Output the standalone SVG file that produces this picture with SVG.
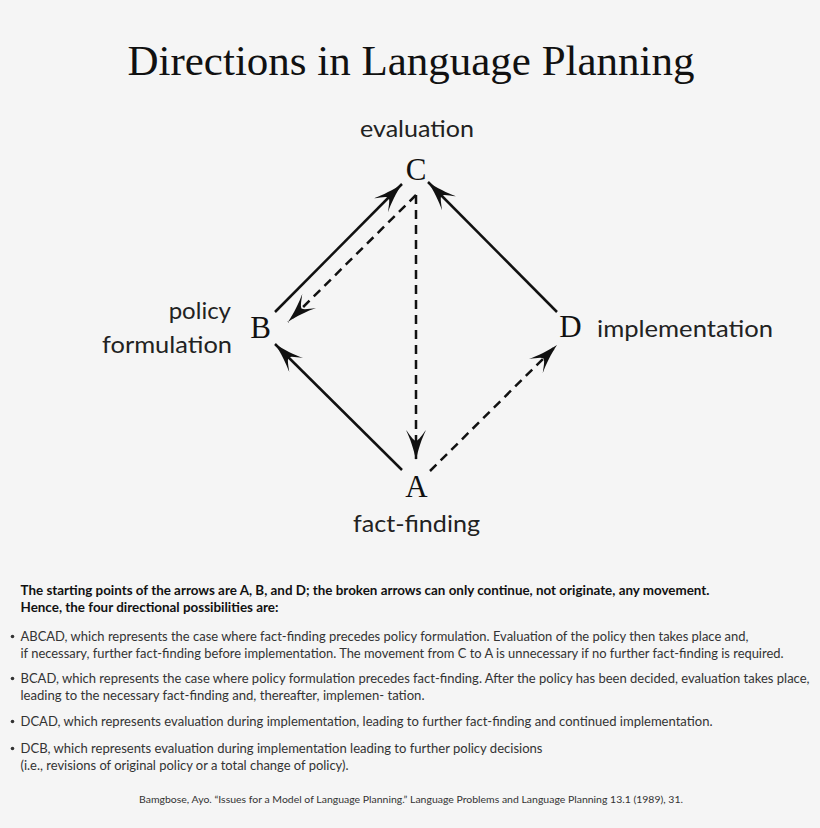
<svg xmlns="http://www.w3.org/2000/svg" width="820" height="828" viewBox="0 0 820 828">
<style>
.title{font-family:"Liberation Serif","DejaVu Serif",serif;font-size:42px;fill:#111}
.letter{font-family:"Liberation Serif","DejaVu Serif",serif;font-size:31px;fill:#111}
.lbl{font-family:Lato,"Liberation Sans",sans-serif;font-size:24px;fill:#222}
.bold{font-family:Lato,"Liberation Sans",sans-serif;font-size:13px;font-weight:bold;fill:#111}
.body{font-family:Lato,"Liberation Sans",sans-serif;font-size:12.6px;fill:#333}
.foot{font-family:Lato,"Liberation Sans",sans-serif;font-size:10px;fill:#333}
.solid{stroke:#111;stroke-width:2.5;fill:none}
.dash{stroke:#111;stroke-width:2.5;fill:none;stroke-dasharray:9,6}
</style>
<defs>
<marker id="ah" viewBox="0 0 30 20" refX="30" refY="10" markerWidth="30" markerHeight="20" markerUnits="userSpaceOnUse" orient="auto">
<path d="M30,10 C20,8 8,4 0,0 C5,4 10,7 11,10 C10,13 5,16 0,20 C8,16 20,12 30,10 Z" fill="#111"/>
</marker>
</defs>
<rect width="820" height="828" fill="#f5f5f5"/>
<text class="title" x="411" y="75" text-anchor="middle" textLength="567" lengthAdjust="spacingAndGlyphs">Directions in Language Planning</text>
<g id="connectors">
<line class="solid" x1="275" y1="312" x2="402" y2="184" marker-end="url(#ah)"/>
<line class="dash" x1="416" y1="195" x2="288" y2="322" marker-end="url(#ah)"/>
<line class="dash" x1="416" y1="195" x2="416" y2="460" marker-end="url(#ah)"/>
<line class="solid" x1="557" y1="312" x2="428" y2="182" marker-end="url(#ah)"/>
<line class="solid" x1="402" y1="470" x2="275" y2="344" marker-end="url(#ah)"/>
<line class="dash" x1="430" y1="471" x2="557" y2="345" marker-end="url(#ah)"/>
</g>
<g id="node-C">
<text class="lbl" x="417" y="137" text-anchor="middle" textLength="114" lengthAdjust="spacingAndGlyphs">evaluation</text>
<text class="letter" x="416" y="180" text-anchor="middle">C</text>
</g>
<g id="node-B">
<text class="lbl" x="231" y="319" text-anchor="end">policy</text>
<text class="lbl" x="232" y="353" text-anchor="end" textLength="130" lengthAdjust="spacingAndGlyphs">formulation</text>
<text class="letter" x="260.5" y="338" text-anchor="middle">B</text>
</g>
<g id="node-D">
<text class="letter" x="570.5" y="337" text-anchor="middle">D</text>
<text class="lbl" x="597" y="337" textLength="176" lengthAdjust="spacingAndGlyphs">implementation</text>
</g>
<g id="node-A">
<text class="letter" x="416.5" y="497" text-anchor="middle">A</text>
<text class="lbl" x="416.5" y="532" text-anchor="middle" textLength="127" lengthAdjust="spacingAndGlyphs">fact-finding</text>
</g>
<g id="notes">
<text class="bold" x="20.5" y="595" textLength="689" lengthAdjust="spacingAndGlyphs">The starting points of the arrows are A, B, and D; the broken arrows can only continue, not originate, any movement.</text>
<text class="bold" x="20.5" y="612" textLength="258" lengthAdjust="spacingAndGlyphs">Hence, the four directional possibilities are:</text>
<circle cx="12.5" cy="636.5" r="1.8" fill="#333"/>
<text class="body" x="20.5" y="641" textLength="728" lengthAdjust="spacingAndGlyphs">ABCAD, which represents the case where fact-finding precedes policy formulation. Evaluation of the policy then takes place and,</text>
<text class="body" x="20.5" y="658" textLength="763" lengthAdjust="spacingAndGlyphs">if necessary, further fact-finding before implementation. The movement from C to A is unnecessary if no further fact-finding is required.</text>
<circle cx="12.5" cy="678.5" r="1.8" fill="#333"/>
<text class="body" x="20.5" y="683" textLength="789" lengthAdjust="spacingAndGlyphs">BCAD, which represents the case where policy formulation precedes fact-finding. After the policy has been decided, evaluation takes place,</text>
<text class="body" x="20.5" y="700" textLength="404" lengthAdjust="spacingAndGlyphs">leading to the necessary fact-finding and, thereafter, implemen- tation.</text>
<circle cx="12.5" cy="721.5" r="1.8" fill="#333"/>
<text class="body" x="20.5" y="726" textLength="692" lengthAdjust="spacingAndGlyphs">DCAD, which represents evaluation during implementation, leading to further fact-finding and continued implementation.</text>
<circle cx="12.5" cy="748.5" r="1.8" fill="#333"/>
<text class="body" x="20.5" y="753" textLength="522" lengthAdjust="spacingAndGlyphs">DCB, which represents evaluation during implementation leading to further policy decisions</text>
<text class="body" x="20.5" y="770" textLength="328" lengthAdjust="spacingAndGlyphs">(i.e., revisions of original policy or a total change of policy).</text>
<text class="foot" x="411" y="803" text-anchor="middle" textLength="544" lengthAdjust="spacingAndGlyphs">Bamgbose, Ayo. “Issues for a Model of Language Planning.” Language Problems and Language Planning 13.1 (1989), 31.</text>
</g>
</svg>
